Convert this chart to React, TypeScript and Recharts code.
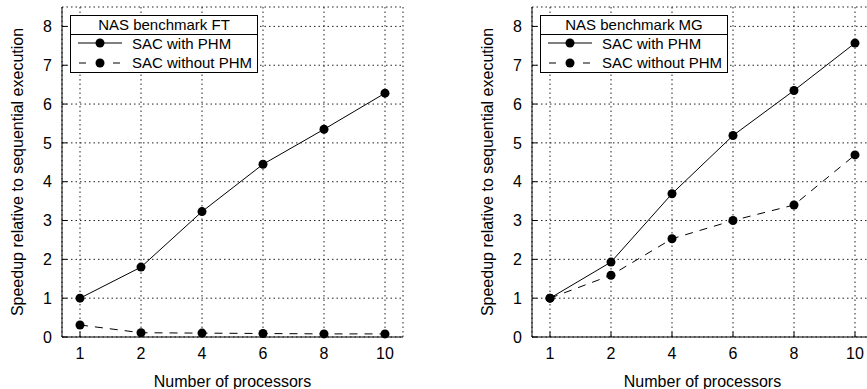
import React from 'react';
import { LineChart, Line, XAxis, YAxis, CartesianGrid } from 'recharts';

const processors = ['1', '2', '4', '6', '8', '10'];
const ftWithPhm = [1.0, 1.8, 3.23, 4.45, 5.35, 6.28];
const ftWithoutPhm = [0.31, 0.11, 0.1, 0.09, 0.08, 0.08];
const mgWithPhm = [1.0, 1.93, 3.69, 5.19, 6.35, 7.57];
const mgWithoutPhm = [1.0, 1.59, 2.53, 3.0, 3.4, 4.69];
const yTicks = [0, 1, 2, 3, 4, 5, 6, 7, 8];
const seriesNames = ['SAC with PHM', 'SAC without PHM'];

const FONT = '"Liberation Sans", Arial, Helvetica, sans-serif';

const BottomTick = (props: any) => {
  const { x, y, payload } = props;
  return (
    <g>
      <line x1={x} x2={x} y1={y - 11} y2={y - 16} stroke="#000" />
      <text x={x} y={y} dy="0.71em" textAnchor="middle" fontSize={16} fill="#000" fontFamily={FONT}>
        {payload.value}
      </text>
    </g>
  );
};

const TopTick = (props: any) => {
  const { x, y } = props;
  return <line x1={x} x2={x} y1={y} y2={y + 5} stroke="#000" />;
};

const LeftTick = (props: any) => {
  const { x, y, payload } = props;
  return (
    <g>
      <line x1={x + 10} x2={x + 15} y1={y} y2={y} stroke="#000" />
      <text x={x} y={y} dy="0.355em" textAnchor="end" fontSize={16} fill="#000" fontFamily={FONT}>
        {payload.value}
      </text>
    </g>
  );
};

const RightTick = (props: any) => {
  const { x, y } = props;
  return <line x1={x} x2={x - 5} y1={y} y2={y} stroke="#000" />;
};

const YTitle = (props: any) => {
  const vb = props.viewBox;
  const x = vb.x + vb.width - 39;
  const y = vb.y + vb.height / 2;
  return (
    <text
      x={x}
      y={y}
      transform={`rotate(-90 ${x} ${y})`}
      textAnchor="middle"
      fontSize={16}
      fill="#000"
      fontFamily={FONT}
    >
      Speedup relative to sequential execution
    </text>
  );
};

const LegendBox = ({ title, left }: { title: string; left: number }) => (
  <svg
    width={188}
    height={58}
    style={{ position: 'absolute', left, top: 15, fontFamily: FONT }}
  >
    <rect x={0.5} y={0.5} width={187} height={57} fill="#fff" stroke="#000" />
    <line x1={0} x2={188} y1={19.5} y2={19.5} stroke="#000" />
    <text x={94} y={14.5} textAnchor="middle" fontSize={15} fill="#000">
      {title}
    </text>
    <line x1={8} x2={52} y1={28} y2={28} stroke="#000" />
    <circle cx={30} cy={28} r={4.5} fill="#000" />
    <text x={62} y={34} fontSize={15} fill="#000">
      {seriesNames[0]}
    </text>
    <line x1={9} x2={16} y1={48} y2={48} stroke="#000" />
    <line x1={43} x2={50} y1={48} y2={48} stroke="#000" />
    <circle cx={30} cy={48} r={4.5} fill="#000" />
    <text x={62} y={53} fontSize={15} fill="#000">
      {seriesNames[1]}
    </text>
  </svg>
);

const Panel = ({
  withPhm,
  withoutPhm,
  width,
  marginLeft,
  marginRight,
}: {
  withPhm: number[];
  withoutPhm: number[];
  width: number;
  marginLeft: number;
  marginRight: number;
}) => {
  const data = processors.map((p, i) => ({ p, a: withPhm[i], b: withoutPhm[i] }));
  return (
    <LineChart
      width={width}
      height={389}
      data={data}
      margin={{ top: 7, right: marginRight, bottom: 0, left: marginLeft }}
      style={{ fontFamily: FONT }}
    >
      <CartesianGrid stroke="#222" strokeDasharray="1.5 3" />
      <XAxis
        dataKey="p"
        type="category"
        scale="point"
        padding={{ left: 18, right: 18 }}
        height={52}
        tickSize={0}
        tickMargin={11}
        tickLine={false}
        axisLine={{ stroke: '#000' }}
        tick={<BottomTick />}
        interval={0}
        label={{ value: 'Number of processors', position: 'insideBottom', offset: 2, fill: '#000', fontSize: 16 }}
      />
      <XAxis
        xAxisId="top"
        dataKey="p"
        type="category"
        scale="point"
        orientation="top"
        padding={{ left: 18, right: 18 }}
        height={0}
        tickSize={0}
        tickMargin={0}
        tickLine={false}
        axisLine={{ stroke: '#000' }}
        tick={<TopTick />}
        interval={0}
      />
      <YAxis
        domain={[0, 8.5]}
        ticks={yTicks}
        width={62}
        tickSize={0}
        tickMargin={10}
        tickLine={false}
        axisLine={{ stroke: '#000' }}
        tick={<LeftTick />}
        interval={0}
        label={<YTitle />}
      />
      <YAxis
        yAxisId="right"
        orientation="right"
        domain={[0, 8.5]}
        ticks={yTicks}
        width={0}
        tickSize={0}
        tickMargin={0}
        tickLine={false}
        axisLine={{ stroke: '#000' }}
        tick={<RightTick />}
        interval={0}
      />
      <Line
        dataKey="a"
        stroke="#000"
        strokeWidth={1}
        dot={{ r: 4.5, fill: '#000', stroke: 'none' }}
        isAnimationActive={false}
      />
      <Line
        dataKey="b"
        stroke="#000"
        strokeWidth={1}
        strokeDasharray="8 7"
        dot={{ r: 4.5, fill: '#000', stroke: 'none', strokeDasharray: '0' }}
        isAnimationActive={false}
      />
    </LineChart>
  );
};

export default function App() {
  return (
    <div
      style={{
        position: 'absolute',
        left: 0,
        top: 0,
        width: 867,
        height: 389,
        overflow: 'hidden',
        background: '#fff',
        fontFamily: FONT,
      }}
    >
      <div style={{ position: 'absolute', left: 0, top: 0 }}>
        <Panel withPhm={ftWithPhm} withoutPhm={ftWithoutPhm} width={434} marginLeft={0} marginRight={31} />
      </div>
      <div style={{ position: 'absolute', left: 434, top: 0 }}>
        <Panel withPhm={mgWithPhm} withoutPhm={mgWithoutPhm} width={450} marginLeft={36} marginRight={11} />
      </div>
      <LegendBox title="NAS benchmark FT" left={70} />
      <LegendBox title="NAS benchmark MG" left={540} />
    </div>
  );
}
